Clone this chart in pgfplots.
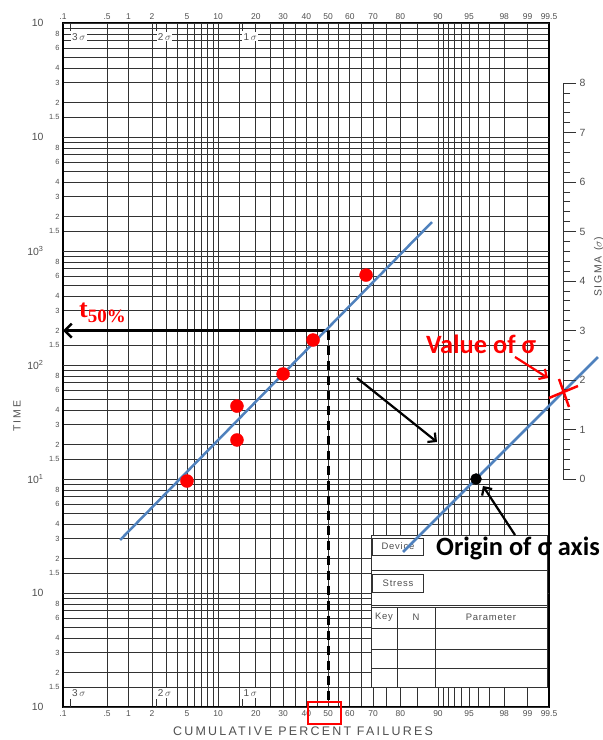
\documentclass[border=0pt]{standalone}
\usepackage{fontspec}
\setmainfont{Liberation Sans}
\newfontfamily\calib{Carlito}
\newfontfamily\serifb{Liberation Serif}
\usepackage{pgfplots}
\pgfplotsset{compat=1.18}
\usetikzlibrary{arrows.meta}
\definecolor{lineblue}{RGB}{79,129,189}
\definecolor{gridc}{RGB}{50,50,50}
\definecolor{tickc}{RGB}{80,80,80}
\newcommand{\fs}[1]{\fontsize{#1}{#1}\selectfont}
\def\probticks{-3.0902,-2.5758,-2.3263,-2.0537,-1.6449,-1.2816,-0.8416,-0.5244,-0.2533,0,0.2533,0.5244,0.8416,1.2816,1.6449,2.0537,2.3263,2.5758}
\def\problabels{.1,.5,1,2,5,10,20,30,40,50,60,70,80,90,95,98,99,99.5}
\begin{document}
\begin{tikzpicture}
% ---------------- probability paper (grid) ----------------
\begin{axis}[
  at={(0,0)}, anchor=south west,
  scale only axis, width=486bp, height=684bp,
  xmin=-3.0902, xmax=2.5758,
  ymode=log, ymin=0.1, ymax=100000,
  axis line style={line width=1.1bp, black},
  major tick length=0pt, minor tick length=0pt,
  xtick/.expand once=\probticks,
  xticklabels/.expand once=\problabels,
  minor xtick={-1.8808,-1.7507,-1.5548,-1.4758,-1.4051,-1.3408,-1.0364,-0.6745,-0.3853,-0.1257,0.1257,0.3853,0.6745,1.0364,1.3408,1.4051,1.4758,1.5548,1.7507,1.8808},
  ytick={0.15,0.2,0.3,0.4,0.6,0.8,1.5,2,3,4,6,8,15,20,30,40,60,80,150,200,300,400,600,800,1500,2000,3000,4000,6000,8000,15000,20000,30000,40000,60000,80000},
  yticklabels={1.5,2,3,4,6,8,1.5,2,3,4,6,8,1.5,2,3,4,6,8,1.5,2,3,4,6,8,1.5,2,3,4,6,8,1.5,2,3,4,6,8},
  minor ytick={0.5,0.7,0.9,5,7,9,50,70,90,500,700,900,5000,7000,9000,50000,70000,90000},
  extra y ticks={0.1,1,10,100,1000,10000,100000},
  extra y tick labels={10,10,10\textsuperscript{1},10\textsuperscript{2},10\textsuperscript{3},10,10},
  extra y tick style={grid style={gridc, line width=1.3bp}, yticklabel style={font=\fs{10.5}, xshift=-16bp}},
  grid=both,
  grid style={gridc, line width=0.8bp},
  major grid style={gridc, line width=0.8bp},
  minor grid style={gridc, line width=0.8bp},
  xticklabel style={font=\fs{8.5}, text=tickc},
  yticklabel style={font=\fs{7.5}, text=tickc},
]
\addplot[draw=none] coordinates {(0,1)};
\end{axis}
% ---------------- form table (lower right) ----------------
\begin{scope}[gridc, line width=0.8bp]
\fill[white] (308bp,20bp) rectangle (484bp,172bp);
\draw (308bp,20bp) rectangle (484bp,172bp);
\draw (309bp,152bp) rectangle (360bp,169bp);
\draw (308bp,137bp) -- (484bp,137bp);
\draw (309bp,115bp) rectangle (360bp,133bp);
\draw (308bp,102bp) -- (484bp,102bp);
\draw (308bp,100bp) -- (484bp,100bp);
\draw (308bp,79bp) -- (484bp,79bp);
\draw (308bp,58bp) -- (484bp,58bp);
\draw (308bp,39bp) -- (484bp,39bp);
\draw (334bp,20bp) -- (334bp,100bp);
\draw (372bp,20bp) -- (372bp,100bp);
\end{scope}
\begin{scope}[every node/.style={text=tickc, font=\fs{9.5}\addfontfeature{LetterSpace=8}, inner sep=0pt}]
\node at (335bp,160.5bp) {Device};
\node at (335bp,124bp) {Stress};
\node at (321bp,90bp) {Key};
\node at (353bp,90bp) {N};
\node at (428bp,90bp) {Parameter};
\end{scope}
% ---------------- data overlay ----------------
\begin{axis}[
  at={(0,0)}, anchor=south west,
  scale only axis, width=486bp, height=684bp,
  xmin=-3.0902, xmax=2.5758,
  ymode=log, ymin=0.1, ymax=100000,
  clip=false,
  axis line style={draw=none},
  major tick length=0pt, minor tick length=0pt,
  ytick=\empty,
  xtick/.expand once=\probticks,
  xticklabels/.expand once=\problabels,
  xticklabel pos=upper,
  xticklabel style={font=\fs{8.5}, text=tickc},
]
% sigma markers (top and bottom)
\draw[gridc, line width=0.8bp] (axis cs:-3,100000) -- ++(0pt,-8bp);
\draw[gridc, line width=0.8bp] (axis cs:-2,100000) -- ++(0pt,-8bp);
\draw[gridc, line width=0.8bp] (axis cs:-1,100000) -- ++(0pt,-8bp);
\draw[gridc, line width=0.8bp] (axis cs:-3,0.1) -- ++(0pt,8bp);
\draw[gridc, line width=0.8bp] (axis cs:-2,0.1) -- ++(0pt,8bp);
\draw[gridc, line width=0.8bp] (axis cs:-1,0.1) -- ++(0pt,8bp);
\node[anchor=west, fill=white, inner sep=1.2bp, text=tickc, font=\fs{10}] at (axis cs:-3,76000) {3\,$\sigma$};
\node[anchor=west, fill=white, inner sep=1.2bp, text=tickc, font=\fs{10}] at (axis cs:-2,76000) {2\,$\sigma$};
\node[anchor=west, fill=white, inner sep=1.2bp, text=tickc, font=\fs{10}] at (axis cs:-1,76000) {1\,$\sigma$};
\node[anchor=west, fill=white, inner sep=1.2bp, text=tickc, font=\fs{10}] at (axis cs:-3,0.133) {3\,$\sigma$};
\node[anchor=west, fill=white, inner sep=1.2bp, text=tickc, font=\fs{10}] at (axis cs:-2,0.133) {2\,$\sigma$};
\node[anchor=west, fill=white, inner sep=1.2bp, text=tickc, font=\fs{10}] at (axis cs:-1,0.133) {1\,$\sigma$};
% t50 construction
\draw[black, line width=2.5bp, -{Straight Barb[length=7bp,width=14bp]}] (axis cs:0,200) -- (axis cs:-3.0902,200);
\draw[black, line width=3bp, dash pattern=on 9bp off 6bp] (axis cs:0,200) -- (axis cs:0,0.1);
% fitted line and data
\addplot[lineblue, line width=2.5bp] coordinates {(-2.424,2.92) (1.212,1795)};
\addplot[lineblue, line width=2.5bp] coordinates {(0.874,2.29) (3.147,117.5)};
\addplot[only marks, mark=*, mark size=6.5bp, red, mark options={draw=red, fill=red}] coordinates {
(-1.6449,9.6) (-1.062,22.0) (-1.062,43.6) (-0.5244,83.4) (-0.175,165.6) (0.443,615)};
\addplot[only marks, mark=*, mark size=5.5bp, black] coordinates {(1.725,10)};
\end{axis}
% ---------------- sigma axis ----------------
\begin{axis}[
  at={(500bp,228bp)}, anchor=south east,
  scale only axis, width=10bp, height=396bp,
  xmin=0, xmax=1, ymin=0, ymax=8,
  hide x axis,
  axis y line*=right,
  y axis line style={-, line width=0.9bp, gridc},
  ytick={0,1,2,3,4,5,6,7,8},
  minor y tick num=4,
  tick align=outside,
  major tick length=13bp, minor tick length=7bp,
  tick style={gridc, line width=0.8bp},
  /pgf/number format/assume math mode=true,
  yticklabel style={font=\fs{10.5}, text=tickc},
]
\addplot[draw=none] coordinates {(0,0)};
\end{axis}
% ---------------- labels & annotations ----------------
\node[rotate=90, text=tickc, font=\fs{10.5}\addfontfeature{LetterSpace=18}] at (-46bp,291bp) {TIME};
\node[text=tickc, font=\fs{12.5}\addfontfeature{LetterSpace=18}] at (240bp,-24bp) {CUMULATIVE PERCENT FAILURES};
\node[rotate=90, text=tickc, font=\fs{10.5}\addfontfeature{LetterSpace=16}] at (536bp,440bp) {SIGMA\hspace{6bp}($\sigma$)};
\node[anchor=base west, inner sep=0pt, text=red, font=\serifb\bfseries] at (16bp,389bp) {\fs{26}t\raisebox{-4.5bp}{\fs{19}50\%}};
\draw[black, line width=2.2bp, -{Straight Barb[length=6bp,width=12bp]}] (294bp,329bp) -- (374bp,265bp);
\draw[black, line width=2.2bp, -{Straight Barb[length=6bp,width=12bp]}] (452bp,172bp) -- (420bp,221bp);
\draw[red, line width=2.2bp, -{Straight Barb[length=6bp,width=12bp]}] (452bp,350bp) -- (485bp,329bp);
\draw[red, line width=2.5bp] (486bp,309bp) -- (515bp,321bp);
\draw[red, line width=2.5bp] (496bp,328bp) -- (506bp,300bp);
\draw[red, line width=2bp] (245bp,5bp) rectangle (278bp,-17bp);
\node[text=red, font=\calib\bfseries\fs{26.5}, inner sep=0pt] at (418bp,363bp) {Value of σ};
\node[text=black, font=\calib\bfseries\fs{26.5}, inner sep=0pt] at (455bp,159bp) {Origin of σ axis};
\pgfresetboundingbox
\path[use as bounding box] (-63bp,-33bp) rectangle (540bp,707bp);
\end{tikzpicture}
\end{document}
